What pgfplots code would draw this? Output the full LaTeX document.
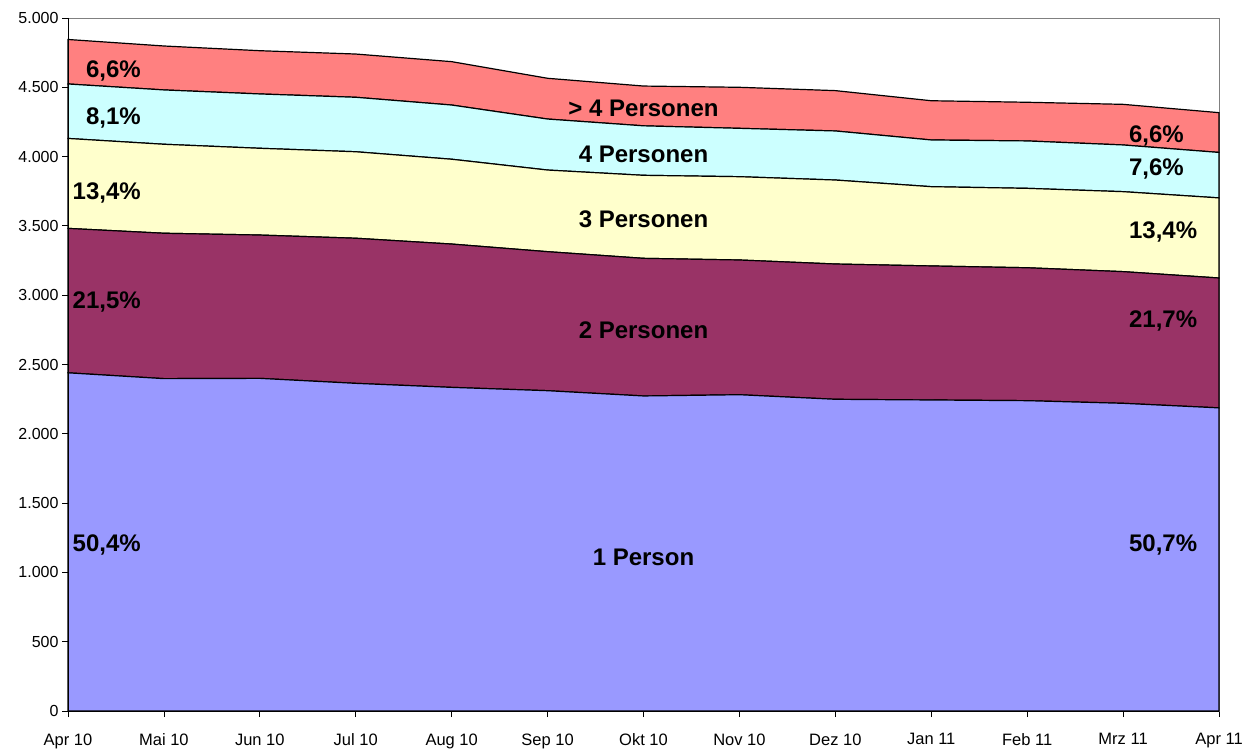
\documentclass[border=0pt]{standalone}
\usepackage{pgfplots}
\pgfplotsset{compat=1.18}
\usepackage{fontspec}
\setmainfont{Liberation Sans}
\definecolor{cA}{RGB}{153,153,255}
\definecolor{cB}{RGB}{153,51,102}
\definecolor{cC}{RGB}{255,255,204}
\definecolor{cD}{RGB}{204,255,255}
\definecolor{cE}{RGB}{255,128,128}
\tikzset{barlab/.style={font=\bfseries\fontsize{24}{28}\selectfont, inner sep=0pt, text=black, yshift=-2pt}}
\begin{document}
\begin{tikzpicture}
\begin{axis}[
  width=1151pt, height=693pt, scale only axis,
  xmin=0, xmax=12, ymin=0, ymax=5000,
  stack plots=y,
  xtick={0,1,2,3,4,5,6,7,8,9,10,11,12},
  xticklabels={Apr 10,Mai 10,Jun 10,Jul 10,Aug 10,Sep 10,Okt 10,Nov 10,Dez 10,Jan 11,Feb 11,Mrz 11,Apr 11},
  ytick={0,500,1000,1500,2000,2500,3000,3500,4000,4500,5000},
  yticklabels={0,500,1.000,1.500,2.000,2.500,3.000,3.500,4.000,4.500,5.000},
  tick align=outside, major tick length=6pt,
  xtick pos=bottom, ytick pos=left,
  tick style={black, line width=0.8pt},
  axis line style={gray, line width=0.8pt},
  ticklabel style={font=\fontsize{16}{19}\selectfont},
  xticklabel style={font=\fontsize{16.5}{19}\selectfont, yshift=-13pt},
  clip=false,
  after end axis/.code={
    \draw[black, line width=1pt] (rel axis cs:0,1) -- (rel axis cs:0,0) -- (rel axis cs:1,0);
    \node[barlab, anchor=east] at (rel axis cs:0.0634,0.9264) {6,6\%};
    \node[barlab, anchor=east] at (rel axis cs:0.0634,0.8586) {8,1\%};
    \node[barlab, anchor=east] at (rel axis cs:0.0634,0.7504) {13,4\%};
    \node[barlab, anchor=east] at (rel axis cs:0.0634,0.5930) {21,5\%};
    \node[barlab, anchor=east] at (rel axis cs:0.0634,0.2424) {50,4\%};
    \node[barlab] at (rel axis cs:0.5,0.8730) {> 4 Personen};
    \node[barlab] at (rel axis cs:0.5,0.8066) {4 Personen};
    \node[barlab] at (rel axis cs:0.5,0.7128) {3 Personen};
    \node[barlab] at (rel axis cs:0.5,0.5526) {2 Personen};
    \node[barlab] at (rel axis cs:0.5,0.2252) {1 Person};
    \node[barlab, anchor=west] at (rel axis cs:0.9217,0.8326) {6,6\%};
    \node[barlab, anchor=west] at (rel axis cs:0.9217,0.7850) {7,6\%};
    \node[barlab, anchor=west] at (rel axis cs:0.9217,0.6940) {13,4\%};
    \node[barlab, anchor=west] at (rel axis cs:0.9217,0.5656) {21,7\%};
    \node[barlab, anchor=west] at (rel axis cs:0.9217,0.2424) {50,7\%};
  },
]
\addplot[fill=cA, draw=black, line width=1.2pt] coordinates {
(0,2440) (1,2398) (2,2400) (3,2364) (4,2335) (5,2311) (6,2273) (7,2282) (8,2249) (9,2244) (10,2239) (11,2220) (12,2187)} \closedcycle;
\addplot[fill=cB, draw=black, line width=1.2pt] coordinates {
(0,1042) (1,1049) (2,1034) (3,1047) (4,1034) (5,1003) (6,993) (7,972) (8,976) (9,967) (10,959) (11,950) (12,937)} \closedcycle;
\addplot[fill=cC, draw=black, line width=1.2pt] coordinates {
(0,649) (1,642) (2,626) (3,624) (4,612) (5,589) (6,599) (7,601) (8,606) (9,572) (10,573) (11,577) (12,578)} \closedcycle;
\addplot[fill=cD, draw=black, line width=1.2pt] coordinates {
(0,393) (1,392) (2,392) (3,393) (4,391) (5,368) (6,357) (7,349) (8,354) (9,337) (10,342) (11,337) (12,328)} \closedcycle;
\addplot[fill=cE, draw=black, line width=1.2pt] coordinates {
(0,321) (1,317) (2,312) (3,312) (4,313) (5,294) (6,287) (7,296) (8,291) (9,283) (10,279) (11,293) (12,287)} \closedcycle;
\end{axis}
\pgfresetboundingbox
\path ([shift={(-68pt,-40pt)}]current axis.south west) rectangle ([shift={(39pt,18pt)}]current axis.north east);
\end{tikzpicture}
\end{document}
